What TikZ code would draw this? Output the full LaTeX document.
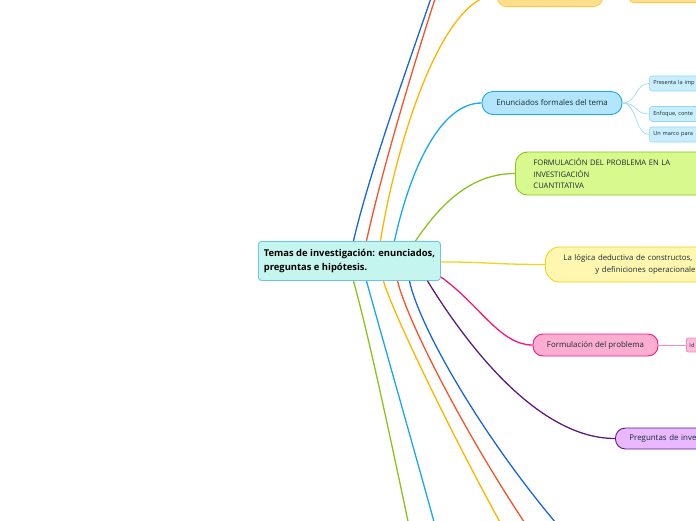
\documentclass[tikz,border=0pt]{standalone}
\usepackage{fontspec}
\setmainfont{Open Sans}
\usepackage{xcolor}
\usepackage{tikz}
\usetikzlibrary{positioning}
\definecolor{InkDark}{RGB}{25,45,50}
\definecolor{RootFill}{HTML}{C5F5EF}
\definecolor{RootLine}{HTML}{6BC5E8}
\definecolor{BranchBlue}{HTML}{1A64DC}
\definecolor{BranchRed}{HTML}{F5532B}
\definecolor{BranchOrange}{HTML}{FFB400}
\definecolor{OrangeFill}{HTML}{FFDF8C}
\definecolor{OrangeLine}{HTML}{FFC847}
\definecolor{BranchCyan}{HTML}{19A8EE}
\definecolor{CyanFill}{HTML}{B3E5FC}
\definecolor{CyanSubFill}{HTML}{C9EEFD}
\definecolor{CyanSubLine}{HTML}{8FD8F7}
\definecolor{BranchGreen}{HTML}{8CC21E}
\definecolor{GreenFill}{HTML}{D8F98D}
\definecolor{BranchYellow}{HTML}{F2D320}
\definecolor{YellowFill}{HTML}{FFF7B0}
\definecolor{BranchPink}{HTML}{F2197E}
\definecolor{PinkFill}{HTML}{FDADD2}
\definecolor{PinkSubFill}{HTML}{FDBCDB}
\definecolor{PinkSubLine}{HTML}{F48DBE}
\definecolor{BranchPurple}{HTML}{5C1C7D}
\definecolor{PurpleFill}{HTML}{E9B8FF}

\begin{document}
\begin{tikzpicture}[x=1pt, y=-1pt,
	branch/.style={line width=1.3pt},
	twig/.style={line width=0.6pt},
	rootbox/.style={draw=RootLine, fill=RootFill, line width=0.9pt, rounded corners=3pt,
		text=black, align=left, font=\fontsize{9.4}{14.5}\selectfont\bfseries},
	topicbox/.style={line width=0.9pt, inner sep=0pt, text=InkDark,
		font=\fontsize{7.9}{9}\selectfont},
	subbox/.style={draw=CyanSubLine, fill=CyanSubFill, line width=0.6pt, rounded corners=3pt,
		anchor=west, minimum height=15pt, text width=60pt, inner xsep=4pt, inner ysep=0pt,
		align=left, text=InkDark, font=\fontsize{5.6}{6}\selectfont}
]
	\useasboundingbox (0,0) rectangle (696,520);
	\clip (0,0) rectangle (696,520);

	% nodo central
	\node[rootbox, anchor=north west, minimum width=182pt, minimum height=39pt] (root) at (258,241)
		{Temas de investigación: enunciados,\\preguntas e hipótesis.};

	% cajas de arriba (cortadas)
	\node[topicbox, draw=OrangeLine, fill=OrangeFill, rounded corners=9pt, anchor=south west,
		minimum width=105pt, minimum height=24pt] (arriba) at (497,7) {};
	\node[topicbox, draw=OrangeLine, fill=OrangeFill, rounded corners=4pt, anchor=south west,
		minimum width=90pt, minimum height=20pt] (arribaDer) at (629,3) {};

	% Enunciados formales del tema
	\node[topicbox, draw=BranchCyan, fill=CyanFill, rounded corners=11pt,
		minimum width=140pt, minimum height=23pt] (enunciados) at (552,103) {Enunciados formales del tema};
	\node[subbox] (presenta) at (649,83.5) {Presenta la imp};
	\node[subbox] (enfoque) at (649,114) {Enfoque, conte};
	\node[subbox] (marco) at (649,134.5) {Un marco para};

	% FORMULACIÓN DEL PROBLEMA
	\node[topicbox, draw=BranchGreen, fill=GreenFill, rounded corners=12pt, anchor=west,
		minimum height=43pt, text width=200pt, inner xsep=18pt, align=left,
		font=\fontsize{7.6}{11.5}\selectfont] (cuanti) at (515,173.5)
		{FORMULACIÓN DEL PROBLEMA EN LA\\INVESTIGACIÓN\\CUANTITATIVA};

	% La lógica deductiva
	\node[topicbox, draw=BranchYellow, fill=YellowFill, rounded corners=14pt, anchor=west,
		minimum height=35pt, text width=200pt, inner xsep=18pt, align=left,
		font=\fontsize{7.8}{12}\selectfont] (logica) at (545,264.5)
		{La lógica deductiva de constructos,\\\hspace*{32pt}y definiciones operacionale};

	% Formulación del problema
	\node[topicbox, draw=BranchPink, fill=PinkFill, rounded corners=10pt,
		minimum width=125pt, minimum height=22pt] (formulacion) at (595.5,345) {Formulación del problema};
	\node[topicbox, draw=PinkSubLine, fill=PinkSubFill, rounded corners=2pt, anchor=west,
		minimum height=14pt, text width=30pt, inner xsep=3pt, align=left,
		font=\fontsize{5.6}{6}\selectfont] (ideas) at (686,345) {Id};

	% Preguntas
	\node[topicbox, draw=BranchPurple, fill=PurpleFill, rounded corners=10pt, anchor=west,
		minimum height=21pt, text width=90pt, inner xsep=14pt, align=left] (preguntas) at (615,438.5)
		{Preguntas de inve};

	% extremos fuera del cuadro
	\coordinate (azulArriba) at (435.5,-15);
	\coordinate (rojoArriba) at (439.5,-15);
	\coordinate (verdeAbajo) at (412,540);
	\coordinate (celesteAbajo) at (439,540);
	\coordinate (naranjaAbajo) at (510,540);
	\coordinate (rojoAbajo) at (540,545);
	\coordinate (azulAbajo) at (575,545);

	% ramas hacia arriba
	\draw[branch, BranchBlue] ([xshift=4pt]root.north) .. controls (370,170) and (410,60) .. (azulArriba);
	\draw[branch, BranchRed] ([xshift=17pt]root.north) .. controls (382,170) and (415,60) .. (rojoArriba);
	\draw[branch, BranchOrange] ([xshift=31pt]root.north) .. controls (395,150) and (440,-4) .. (arriba.west);
	\draw[branch, BranchCyan] ([xshift=45pt]root.north) .. controls (410,170) and (440,103) .. (enunciados.west);
	\draw[branch, BranchGreen] ([xshift=66pt]root.north) .. controls (440,205) and (470,173.5) .. (cuanti.west);

	% ramas a la derecha
	\draw[branch, BranchYellow] ([yshift=-1pt]root.east) .. controls (490,262) and (495,264.5) .. (logica.west);
	\draw[branch, BranchPink] ([yshift=-16pt]root.east) .. controls (480,305) and (500,345) .. (formulacion.west);
	\draw[branch, BranchPurple] ([xshift=78pt]root.south) .. controls (470,350) and (540,438.5) .. (preguntas.west);

	% ramas hacia abajo
	\draw[branch, BranchGreen] ([xshift=4pt]root.south) .. controls (370,340) and (395,460) .. (verdeAbajo);
	\draw[branch, BranchCyan] ([xshift=17pt]root.south) .. controls (380,330) and (420,470) .. (celesteAbajo);
	\draw[branch, BranchOrange] ([xshift=34pt]root.south) .. controls (395,320) and (470,470) .. (naranjaAbajo);
	\draw[branch, BranchRed] ([xshift=48pt]root.south) .. controls (410,330) and (480,460) .. (rojoAbajo);
	\draw[branch, BranchBlue] ([xshift=60pt]root.south) .. controls (420,330) and (490,450) .. (azulAbajo);

	% subramas
	\draw[twig, CyanSubLine] (enunciados.east) .. controls (637,103) and (635,83.5) .. (presenta.west);
	\draw[twig, CyanSubLine] (enunciados.east) .. controls (637,103) and (635,114) .. (enfoque.west);
	\draw[twig, CyanSubLine] (enunciados.east) .. controls (637,103) and (635,134.5) .. (marco.west);
	\draw[twig, PinkSubLine] (formulacion.east) -- (ideas.west);
\end{tikzpicture}
\end{document}
